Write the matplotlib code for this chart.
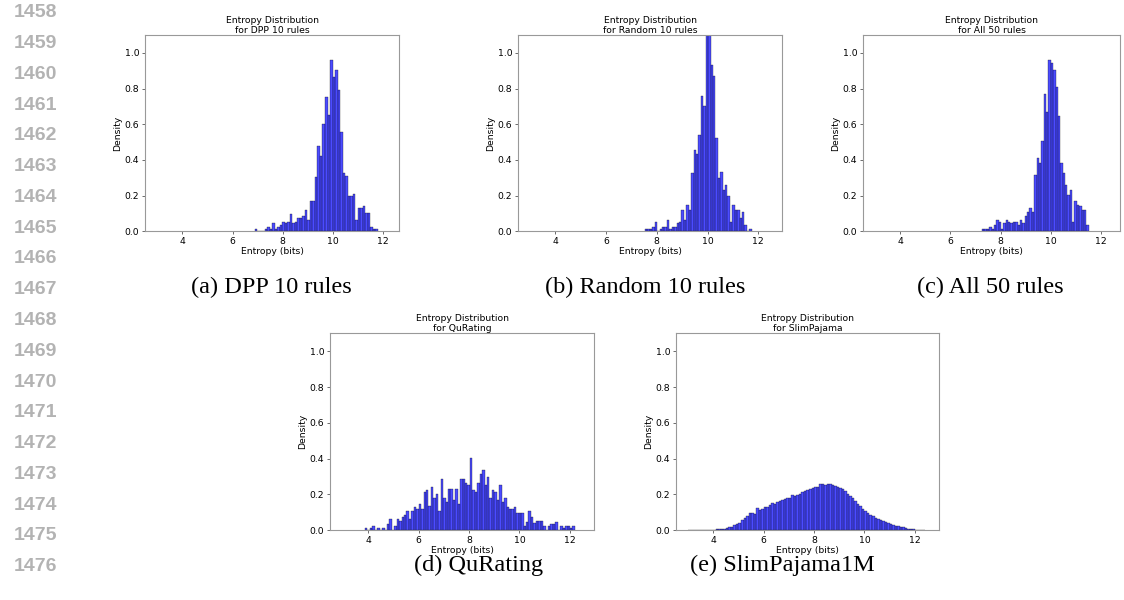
import numpy as np
import matplotlib
matplotlib.use("Agg")
import matplotlib.pyplot as plt

# histogram densities (bins of ~0.1 bits)
dpp_range = (6.88, 11.78)
dpp_density = [0.013, 0, 0, 0, 0.011, 0.022, 0.013, 0.047, 0.013, 0.024,
               0.034, 0.054, 0.047, 0.054, 0.097, 0.047, 0.054, 0.075, 0.075, 0.084,
               0.12, 0.065, 0.17, 0.17, 0.307, 0.476, 0.424, 0.60, 0.75, 0.65,
               0.96, 0.863, 0.906, 0.79, 0.558, 0.326, 0.31, 0.20, 0.20, 0.21,
               0.065, 0.13, 0.13, 0.14, 0.105, 0.10, 0.025, 0.013, 0.013]

random_range = (7.54, 11.74)
random_density = [0.011, 0.011, 0.011, 0.022, 0.054, 0, 0.011, 0.022, 0.022, 0.065,
                  0.011, 0.022, 0.022, 0.045, 0.054, 0.118, 0.065, 0.15, 0.118, 0.328,
                  0.453, 0.435, 0.54, 0.758, 0.70, 1.15, 1.12, 0.93, 0.873, 0.522,
                  0.30, 0.33, 0.23, 0.26, 0.20, 0.054, 0.15, 0.118, 0.118, 0.075,
                  0.11, 0.035, 0, 0.011]

all50_range = (7.26, 11.52)
all50_density = [0.011, 0.011, 0.011, 0.022, 0.011, 0.034, 0.065, 0.054, 0.011, 0.045,
                 0.065, 0.054, 0.045, 0.054, 0.054, 0.034, 0.065, 0.045, 0.086, 0.108,
                 0.13, 0.108, 0.316, 0.412, 0.382, 0.507, 0.77, 0.667, 0.958, 0.942,
                 0.906, 0.81, 0.644, 0.382, 0.328, 0.257, 0.204, 0.232, 0.054, 0.17,
                 0.15, 0.139, 0.12, 0.12, 0.034]

qurating_range = (3.87, 12.2)
qurating_density = [0.011, 0, 0.011, 0.022, 0, 0.011, 0, 0.011, 0, 0.034,
                    0.065, 0, 0.022, 0.065, 0.054, 0.075, 0.086, 0.108, 0.065, 0.108,
                    0.129, 0.119, 0.149, 0.119, 0.213, 0.224, 0.138, 0.244, 0.183, 0.203,
                    0.108, 0.285, 0.183, 0.16, 0.233, 0.233, 0.17, 0.233, 0.149, 0.285,
                    0.285, 0.263, 0.254, 0.403, 0.224, 0.213, 0.263, 0.317, 0.338, 0.254,
                    0.297, 0.181, 0.224, 0.213, 0.17, 0.254, 0.16, 0.181, 0.129, 0.119,
                    0.119, 0.129, 0.097, 0.097, 0.097, 0.024, 0.045, 0.106, 0.075, 0.04,
                    0.05, 0.054, 0.054, 0.024, 0, 0.024, 0.034, 0.034, 0.045, 0,
                    0.024, 0.011, 0.024, 0.024, 0.011, 0.024]

slim_range = (3.0, 12.4)
slim_density = [0.001, 0.001, 0.001, 0.002, 0.002, 0.002, 0.003, 0.003, 0.003, 0.004,
                0.004, 0.005, 0.006, 0.009, 0.010, 0.011, 0.016, 0.020, 0.028, 0.035,
                0.043, 0.055, 0.068, 0.082, 0.094, 0.095, 0.093, 0.123, 0.116, 0.121,
                0.129, 0.132, 0.142, 0.150, 0.146, 0.158, 0.163, 0.170, 0.175, 0.178,
                0.180, 0.195, 0.192, 0.198, 0.205, 0.212, 0.218, 0.225, 0.233, 0.238,
                0.242, 0.240, 0.256, 0.259, 0.253, 0.260, 0.257, 0.252, 0.246, 0.243,
                0.236, 0.228, 0.217, 0.205, 0.190, 0.178, 0.163, 0.148, 0.133, 0.120,
                0.108, 0.097, 0.087, 0.079, 0.070, 0.063, 0.056, 0.050, 0.044, 0.039,
                0.034, 0.030, 0.026, 0.022, 0.019, 0.016, 0.013, 0.010, 0.008, 0.006,
                0.004, 0.003, 0.002, 0.001]

titles = ["DPP 10 rules", "Random 10 rules", "All 50 rules", "QuRating", "SlimPajama"]
captions = ["(a) DPP 10 rules", "(b) Random 10 rules", "(c) All 50 rules",
            "(d) QuRating", "(e) SlimPajama1M"]
line_numbers = list(range(1458, 1477))

W, H = 1124, 600
fig = plt.figure(figsize=(W / 100, H / 100), dpi=100)

# axes boxes in pixels: left, top, right, bottom, and each panel's x range
boxes = [(145, 35, 399, 231.3), (518, 35, 782, 231.3), (863, 35, 1120, 231.3),
         (330, 333.3, 594, 530.3), (676, 333.3, 939, 530.3)]
xlims = [(2.515, 12.625), (2.544, 12.93), (2.506, 12.77),
         (2.48, 12.96), (2.52, 12.96)]
data = [(dpp_range, dpp_density), (random_range, random_density),
        (all50_range, all50_density), (qurating_range, qurating_density),
        (slim_range, slim_density)]
fs = 6.7

for (l, t, r, b), xl, (rng, dens), name in zip(boxes, xlims, data, titles):
    ax = fig.add_axes([l / W, 1 - b / H, (r - l) / W, (b - t) / H])
    edges = np.linspace(rng[0], rng[1], len(dens) + 1)
    ax.hist(edges[:-1], bins=edges, weights=dens, color='blue', alpha=0.7,
            edgecolor='black', linewidth=0.3)
    ax.set_xlim(*xl)
    ax.set_ylim(0, 1.1)
    ax.set_xticks([4, 6, 8, 10, 12])
    ax.set_yticks([0, 0.2, 0.4, 0.6, 0.8, 1.0])
    ax.set_title("Entropy Distribution\nfor " + name, fontsize=fs, pad=1.5)
    ax.set_xlabel("Entropy (bits)", fontsize=fs, labelpad=1)
    ax.set_ylabel("Density", fontsize=fs, labelpad=2)
    ax.tick_params(labelsize=fs, length=2.5, width=0.6, pad=1.5, color='#555555')
    for s in ax.spines.values():
        s.set_color('#999999')
        s.set_linewidth(0.8)

cap_pos = [(271, 287), (645, 287), (990, 287), (479, 565), (782, 565)]
for (x, y), c in zip(cap_pos, captions):
    fig.text(x / W, 1 - y / H, c, ha='center', va='center', fontsize=17.5,
             family='Liberation Serif')

for k, n in enumerate(line_numbers):
    y = 12.7 + 30.78 * k
    fig.text(57 / W, 1 - y / H, str(n), ha='right', va='center', fontsize=14,
             fontweight='bold', color='#b3b3b3', family='Liberation Sans')

fig.savefig("out.png", dpi=100)
